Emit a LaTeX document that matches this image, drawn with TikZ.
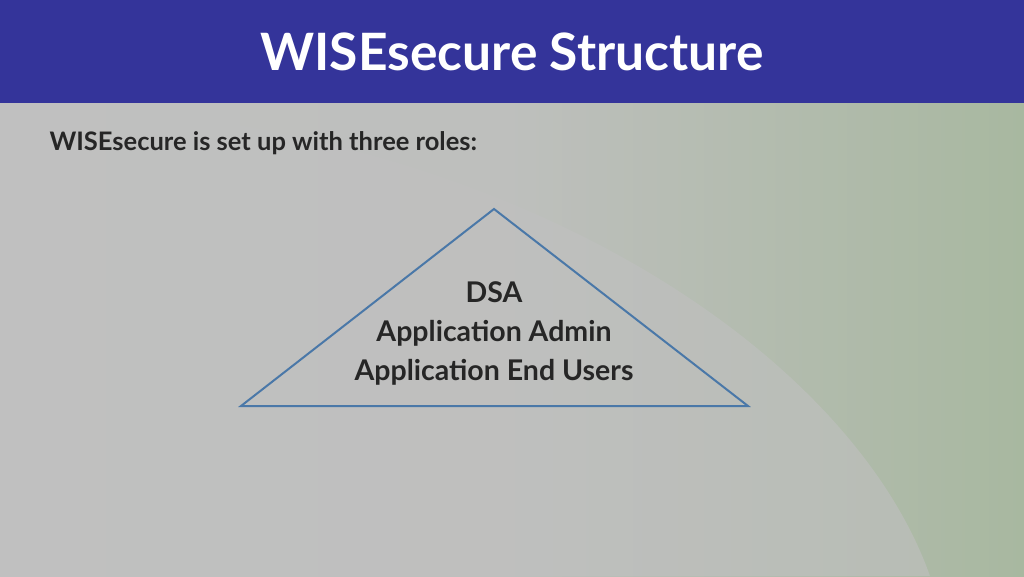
\documentclass[tikz,border=0pt]{standalone}
\usepackage{fontspec}
\setmainfont{Lato}
\begin{document}
\begin{tikzpicture}[x=1pt,y=-1pt,
  tri/.style={draw=triblue,line width=2pt,line join=miter},
  lbl/.style={font=\fontsize{28.5}{39}\selectfont\bfseries,align=center,text=black!85}]
\definecolor{bar}{HTML}{34349A}
\definecolor{bg}{HTML}{C0C0C0}
\definecolor{bggreen}{HTML}{A8B8A0}
\definecolor{triblue}{HTML}{4A78A8}
\useasboundingbox (0,0) rectangle (1024,576);
\shade[left color=bg, right color=bggreen, middle color=bg!90!bggreen] (0,103) rectangle (1024,576);
\fill[bg,opacity=0.6] (0,103) .. controls (500,110) and (850,350) .. (930,576) -- (0,576) -- cycle;
\fill[bar] (0,0) rectangle (1024,103);
\node[font=\fontsize{51.5}{60}\selectfont\bfseries,text=white] (title) at (512,52) {WISEsecure Structure};
\node[font=\fontsize{25.5}{30}\selectfont\bfseries,text=black!85,anchor=west] (sub) at (46,143) {WISEsecure is set up with three roles:};
\coordinate (l) at (241,406);
\coordinate (t) at (494,209);
\coordinate (r) at (748,406);
\draw[tri] (l) -- (t) -- (r) -- cycle;
\node[lbl] (roles) at (494,333) {DSA\\Application Admin\\Application End Users};
\end{tikzpicture}
\end{document}
